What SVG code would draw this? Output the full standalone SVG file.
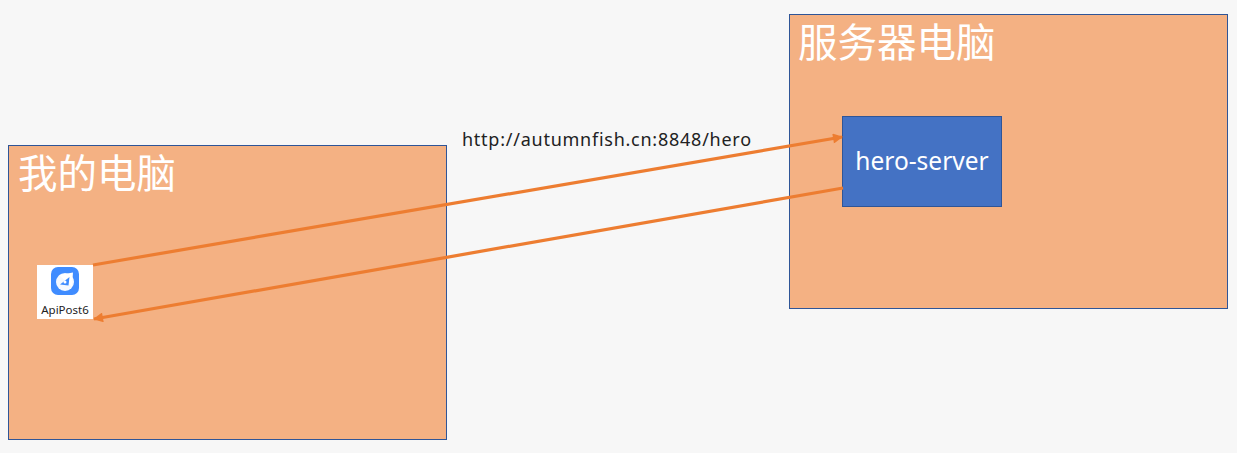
<svg xmlns="http://www.w3.org/2000/svg" width="1237" height="453" viewBox="0 0 1237 453">
<style>
.box{fill:#f4b183;stroke:#2f5597;stroke-width:1}
.title{font-family:"Noto Sans CJK SC","Noto Sans",sans-serif;font-size:39.500px;font-weight:400;fill:#fff}
.conn{fill:none;stroke:#ed7d31;stroke-width:3.200}
.head{fill:#ed7d31}
</style>
<defs>
<marker id="arrow" viewBox="0 0 10 10" refX="9" refY="5" markerWidth="13" markerHeight="10" markerUnits="userSpaceOnUse" orient="auto"><path class="head" d="M0 0L10 5L0 10Z"/></marker>
</defs>
<rect width="1237" height="453" fill="#f7f7f7"/>
<g id="my-computer">
<rect class="box" x="8.500" y="145.500" width="438" height="294"/>
<text class="title" x="18" y="188">我的电脑</text>
</g>
<g id="server-computer">
<rect class="box" x="789.500" y="14.500" width="438" height="294"/>
<text class="title" x="798" y="57">服务器电脑</text>
</g>
<g id="hero-server">
<rect x="842.500" y="116.500" width="159" height="90" fill="#4472c4" stroke="#2f5597"/>
<text x="922" y="170" text-anchor="middle" font-family="'Noto Sans',sans-serif" font-size="24.500" fill="#fff">hero-server</text>
</g>
<g id="apipost">
<rect x="37" y="265" width="56" height="54" fill="#fff"/>
<rect x="51" y="267" width="28" height="28" rx="7" fill="#3f8cff"/>
<circle cx="65" cy="282" r="9" fill="#fff" opacity="0.950"/>
<path d="M73 272.500L72 287L59 275Z" fill="#fff"/>
<path d="M69.500 277L68.500 285.500L60 284.500Z" fill="#3f8cff"/>
<circle cx="65" cy="282" r="1.500" fill="#fff"/>
<text x="65" y="314" text-anchor="middle" font-family="'Noto Sans',sans-serif" font-size="11.500" fill="#222">ApiPost6</text>
</g>
<g id="connectors">
<line class="conn" x1="93" y1="265" x2="842" y2="137" marker-end="url(#arrow)"/>
<line class="conn" x1="843" y1="188" x2="94" y2="319" marker-end="url(#arrow)"/>
</g>
<text x="462" y="146" font-family="'Noto Sans',sans-serif" font-size="18" letter-spacing="0.750" fill="#222">http://autumnfish.cn:8848/hero</text>
</svg>
